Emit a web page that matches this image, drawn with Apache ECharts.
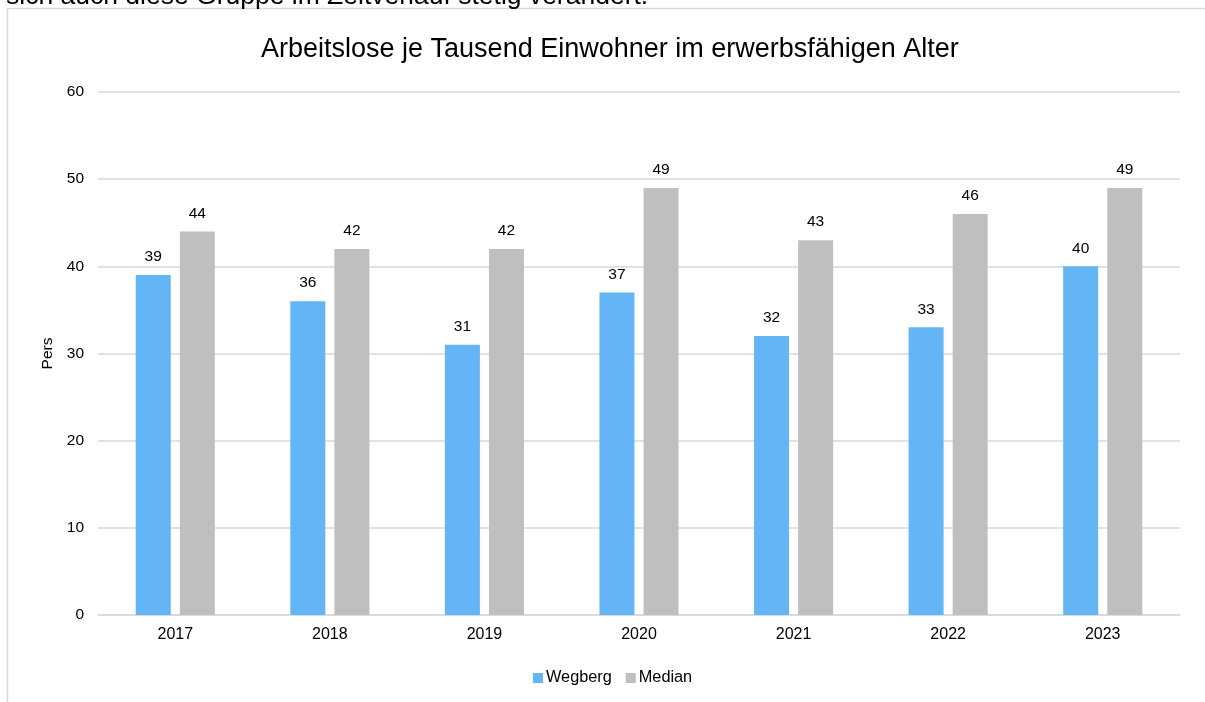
<!DOCTYPE html>
<html>
<head>
<meta charset="utf-8">
<script src="https://cdn.jsdelivr.net/npm/echarts@6/dist/echarts.min.js"></script>
<style>
  html, body { margin: 0; padding: 0; background: #fff; }
  #main { width: 1205px; height: 702px; }
</style>
</head>
<body>
<div id="main"></div>
<script>
// Werte aus dem Diagramm
var years = ["2017", "2018", "2019", "2020", "2021", "2022", "2023"];
var wegberg = [39, 36, 31, 37, 32, 33, 40];
var median = [44, 42, 42, 49, 43, 46, 49];

var myChart = echarts.init(document.getElementById("main"));
var labelStyle = { show: true, position: "top", distance: 10, color: "#000", fontSize: 15.5, fontFamily: "Liberation Sans, Arial" };

myChart.setOption({
  textStyle: { fontFamily: "Liberation Sans, Arial" },
  title: {
    text: "Arbeitslose je Tausend Einwohner im erwerbsfähigen Alter",
    left: 256,
    top: 31,
    textStyle: { fontSize: 27, fontWeight: "normal", color: "#000" }
  },
  graphic: [
    {
      type: "rect",
      shape: { x: 7.5, y: 8.5, width: 1210, height: 710 },
      style: { fill: "none", stroke: "#d9d9d9", lineWidth: 1.5 },
      silent: true
    },
    {
      type: "text",
      left: 6,
      top: -17,
      style: { text: "sich auch diese Gruppe im Zeitverlauf stetig verändert.", fontSize: 26.5, fill: "#000", fontFamily: "Liberation Sans, Arial" }
    }
  ],
  legend: {
    data: ["Wegberg", "Median"],
    bottom: 11,
    left: 528,
    icon: "rect",
    itemWidth: 10,
    itemHeight: 10,
    itemGap: 14,
    textStyle: { fontSize: 16.3, color: "#000", padding: [0, 0, 0, -2] }
  },
  grid: { left: 98, right: 25, top: 92, bottom: 87 },
  xAxis: {
    type: "category",
    data: years,
    axisLine: { lineStyle: { color: "#d9d9d9", width: 1.5 } },
    axisTick: { show: false },
    axisLabel: { color: "#000", fontSize: 16, margin: 12 }
  },
  yAxis: {
    type: "value",
    min: 0,
    max: 60,
    interval: 10,
    name: "Pers",
    nameLocation: "middle",
    nameGap: 41,
    nameRotate: 90,
    nameTextStyle: { color: "#000", fontSize: 15.5 },
    axisLine: { show: false },
    axisTick: { show: false },
    axisLabel: { color: "#000", fontSize: 15.5, margin: 14 },
    splitLine: { lineStyle: { color: "#d9d9d9", width: 1.5 } }
  },
  series: [
    {
      name: "Wegberg",
      type: "bar",
      data: wegberg,
      barWidth: 35,
      barGap: "26%",
      itemStyle: { color: "#64b5f6" },
      label: labelStyle
    },
    {
      name: "Median",
      type: "bar",
      data: median,
      barWidth: 35,
      itemStyle: { color: "#bfbfbf" },
      label: labelStyle
    }
  ]
});
</script>
</body>
</html>
